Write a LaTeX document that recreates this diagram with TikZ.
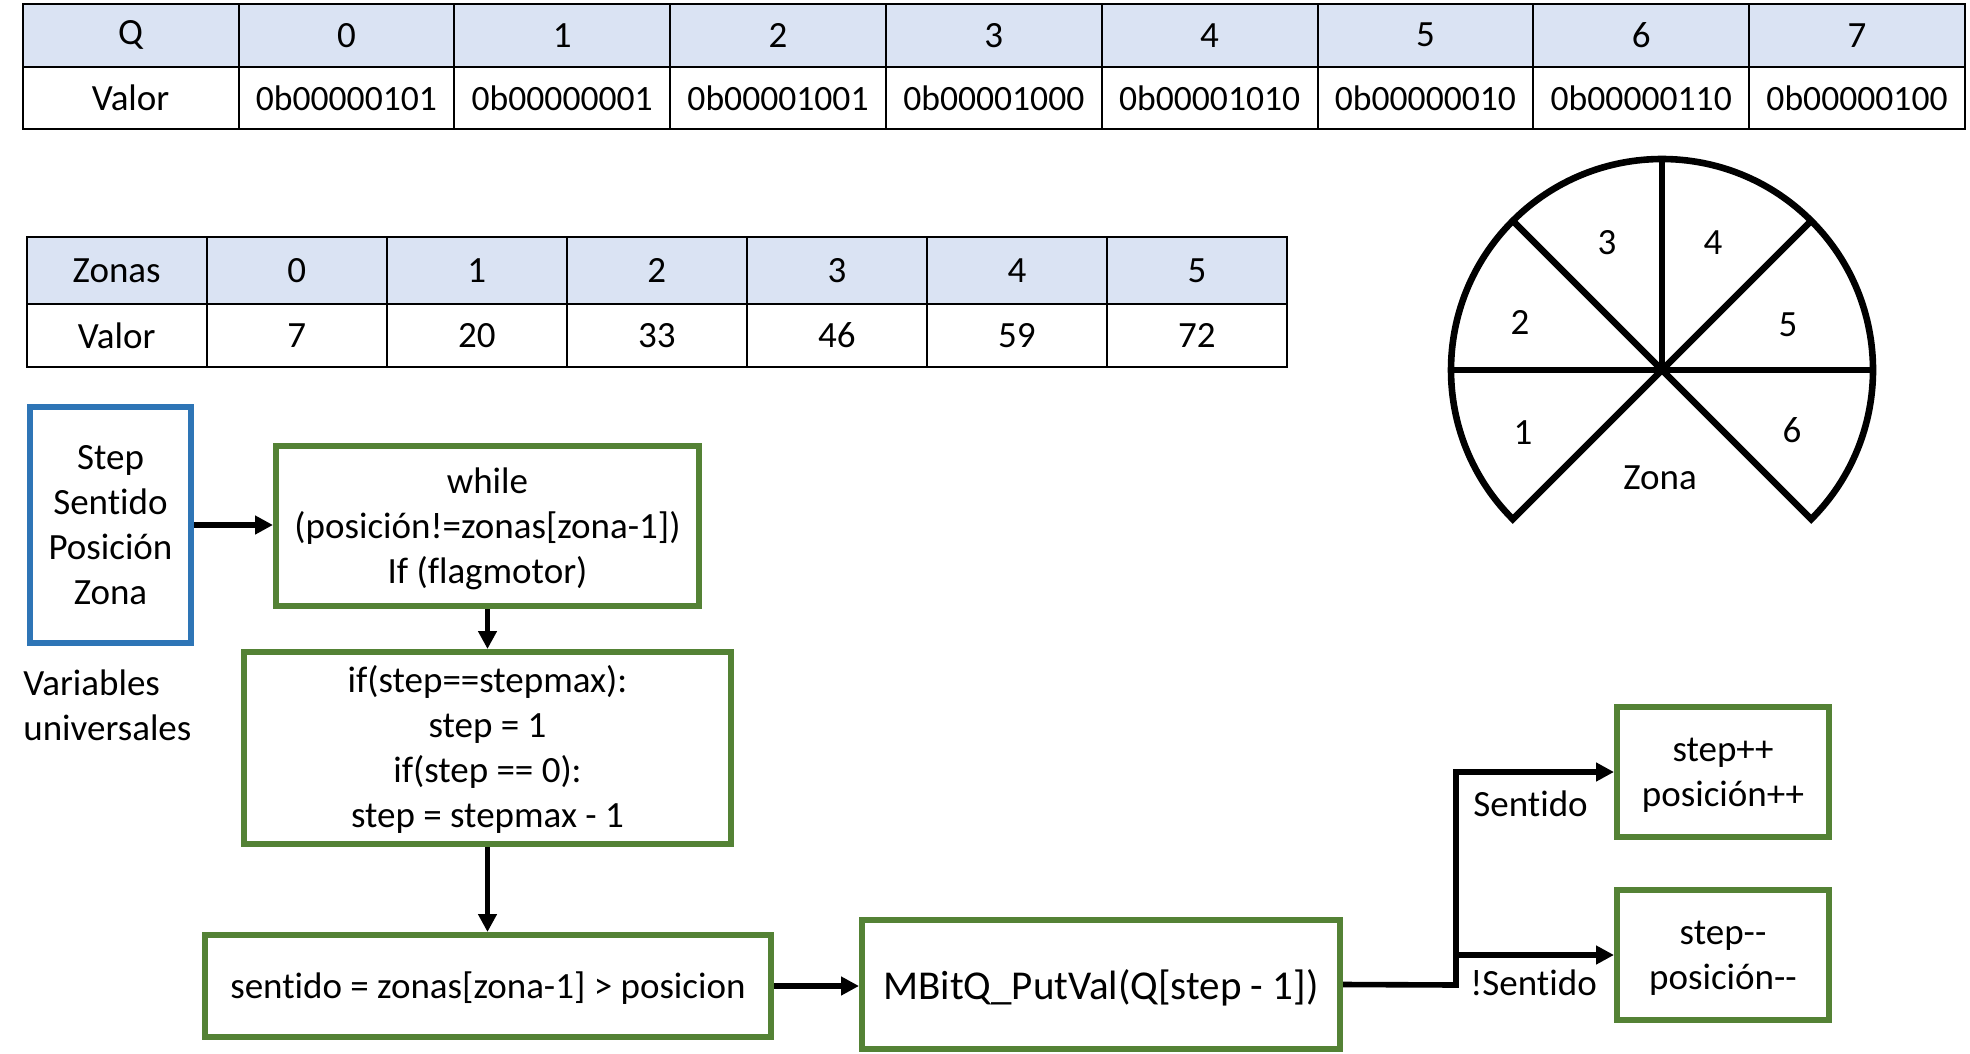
\documentclass[tikz,border=0pt]{standalone}
\usepackage{fontspec}
\setmainfont{Carlito}[Ligatures={TeX,NoCommon}]
\usetikzlibrary{arrows.meta}
\definecolor{grn}{RGB}{84,130,53}
\definecolor{blu}{RGB}{46,117,182}
\definecolor{hdr}{RGB}{218,227,243}
\newcommand\lnstrut{\rule[-5.25pt]{0pt}{22.5pt}}
\newcommand\bigstrut{\rule[-5pt]{0pt}{25pt}}
\begin{document}
\begin{tikzpicture}[x=0.5pt,y=-0.5pt,
  txt/.style={font=\fontsize{18.5}{22.5}\selectfont},
  cell/.style={draw=black, line width=1pt, inner sep=0pt, txt},
  hcell/.style={cell, fill=hdr},
  bincell/.style={cell, font=\fontsize{17.8}{21.5}\selectfont},
  gbox/.style={draw=grn, line width=3pt, inner sep=0pt, align=center, txt},
  bbox/.style={draw=blu, line width=2.9pt, inner sep=0pt, align=center, txt},
  arr/.style={draw=black, line width=2.8pt, -{Triangle[length=9pt,width=9pt]}},
  piecut/.style={draw=black, line width=3.3pt},
  lbl/.style={inner sep=0pt, txt}]
\useasboundingbox (0,0) rectangle (1970,1054);

% ---- table 1
\foreach \t [count=\i from 0] in {Q,0,1,2,3,4,5,6,7}
  \node[hcell, minimum width=107.9pt, minimum height=31.5pt] (q\i) at ({22.7+215.8*(\i+0.5)},35.2) {\t};
\node[cell, minimum width=107.9pt, minimum height=31.15pt] (v0) at ({22.7+215.8*0.5},97.9) {Valor};
\foreach \t [count=\i from 1] in {0b00000101,0b00000001,0b00001001,0b00001000,0b00001010,0b00000010,0b00000110,0b00000100}
  \node[bincell, minimum width=107.9pt, minimum height=31.15pt] (v\i) at ({22.7+215.8*(\i+0.5)},97.9) {\t};

% ---- table 2
\foreach \t [count=\i from 0] in {Zonas,0,1,2,3,4,5}
  \node[hcell, minimum width=90pt, minimum height=33.5pt] (z\i) at ({26.7+180.04*(\i+0.5)},270.5) {\t};
\foreach \t [count=\i from 0] in {Valor,7,20,33,46,59,72}
  \node[cell, minimum width=90pt, minimum height=31.35pt] (w\i) at ({26.7+180.04*(\i+0.5)},335.35) {\t};

% ---- pie
\coordinate (pc) at (1662,370);
\draw[piecut] (pc) ++(135:211) arc[start angle=135, end angle=405, radius=211] -- (pc) -- cycle;
\draw[piecut] (pc) ++(-211,0) -- ++(422,0);
\draw[piecut] (pc) -- ++(0,-211);
\draw[piecut] (pc) -- ++(-149.2,-149.2);
\draw[piecut] (pc) -- ++(149.2,-149.2);
\node[lbl] (p3) at (1607,243) {3};
\node[lbl] (p4) at (1713,243) {4};
\node[lbl] (p2) at (1520,322) {2};
\node[lbl] (p5) at (1788,325) {5};
\node[lbl] (p1) at (1523,433) {1};
\node[lbl] (p6) at (1792,430) {6};
\node[lbl] (pz) at (1660,478) {Zona};

% ---- flow
\node[bbox, minimum width=80.5pt, minimum height=118pt] (vars) at (110.5,525) {\lnstrut Step\\Sentido\\Posición\\Zona\lnstrut};
\node[lbl, align=left, anchor=west] (univ) at (23,705.5) {\lnstrut Variables\\universales\lnstrut};
\node[gbox, minimum width=211.5pt, minimum height=80pt] (wh) at (487.5,526) {\lnstrut while\\(posición!=zonas[zona-1])\\If (flagmotor)\lnstrut};
\node[gbox, minimum width=243.5pt, minimum height=96pt] (ifb) at (487.5,748) {\lnstrut if(step==stepmax):\\step = 1\\if(step == 0):\\step = stepmax - 1\lnstrut};
\node[gbox, minimum width=283pt, minimum height=51pt] (sent) at (488,986) {\lnstrut sentido = zonas[zona-1] > posicion};
\node[gbox, minimum width=239pt, minimum height=64.5pt, font=\fontsize{20.5}{24}\selectfont] (mb) at (1101,984.5) {\bigstrut MBitQ\_PutVal(Q[step - 1])};
\node[gbox, minimum width=106pt, minimum height=65pt] (stp) at (1723,772) {\lnstrut step++\\posición++\lnstrut};
\node[gbox, minimum width=106pt, minimum height=65pt] (stm) at (1723,955) {\lnstrut step-{}-\\posición-{}-\lnstrut};

\draw[arr] (vars.east) -- (vars.east -| wh.west);
\draw[arr] (wh.south) -- (ifb.north);
\draw[arr] (ifb.south) -- (ifb.south |- sent.north);
\draw[arr] (sent.east) -- (sent.east -| mb.west);
\coordinate (jn) at (1456,985);
\draw[arr] (mb.east) -- (jn) |- (stp.west);
\draw[arr] (jn |- stm.west) -- (stm.west);
\node[lbl, anchor=base west] (ls) at (1473,816.5) {Sentido};
\node[lbl, anchor=base west] (lns) at (1470,995) {!Sentido};
\end{tikzpicture}
\end{document}
